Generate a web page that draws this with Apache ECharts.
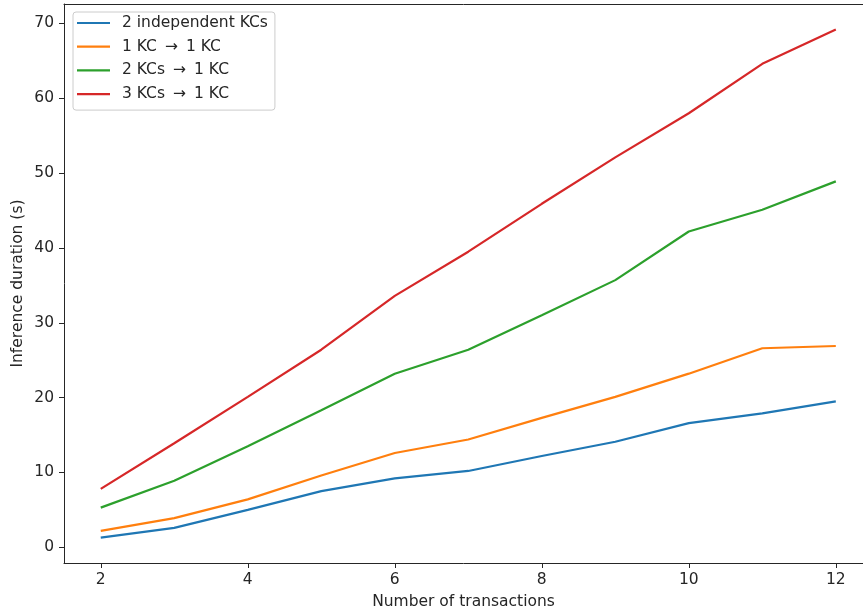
<!DOCTYPE html>
<html>
<head>
<meta charset="utf-8">
<script src="https://cdn.jsdelivr.net/npm/echarts@6/dist/echarts.min.js"></script>
<style>
  html, body { margin: 0; padding: 0; background: #fff; }
  #chart { width: 863px; height: 614px; }
</style>
</head>
<body>
<div id="chart"></div>
<script>
// Number of transactions on the x axis
const transactions = [2, 3, 4, 5, 6, 7, 8, 9, 10, 11, 12];

// Inference duration (s) for each knowledge-component configuration
const independentKCs = [1.3, 2.6, 5.0, 7.5, 9.2, 10.2, 12.2, 14.1, 16.6, 17.9, 19.5];
const oneKcToOne     = [2.2, 3.9, 6.4, 9.6, 12.6, 14.4, 17.3, 20.1, 23.2, 26.6, 26.9];
const twoKcsToOne    = [5.3, 8.9, 13.5, 18.3, 23.2, 26.4, 31.0, 35.7, 42.2, 45.1, 48.9];
const threeKcsToOne  = [7.8, 13.9, 20.1, 26.4, 33.6, 39.5, 45.9, 52.1, 58.0, 64.6, 69.2];

// arrow set off with a little extra room on both sides
const ARROW = '\u2009 \u2192 \u2009';
const seriesNames = ['2 independent KCs', '1 KC' + ARROW + '1 KC', '2 KCs' + ARROW + '1 KC', '3 KCs' + ARROW + '1 KC'];
const seriesColors = ['#1f77b4', '#ff7f0e', '#2ca02c', '#d62728'];

const xTicks = [2, 4, 6, 8, 10, 12];
const yTicks = [0, 10, 20, 30, 40, 50, 60, 70];

const FONT = 'DejaVu Sans';
const INK = '#262626';
const FS = 15.5;

const allSeries = [independentKCs, oneKcToOne, twoKcsToOne, threeKcsToOne];

const chart = echarts.init(document.getElementById('chart'), null, { renderer: 'canvas' });

chart.setOption({
  animation: false,
  backgroundColor: '#ffffff',
  textStyle: { fontFamily: FONT },
  grid: {
    left: 64, top: 4, right: 0, bottom: 51,
    show: false, containLabel: false, outerBoundsMode: 'none'
  },
  legend: {
    left: 73, top: 12,
    orient: 'vertical',
    data: seriesNames.map(n => ({ name: n, icon: 'rect' })),
    itemWidth: 33, itemHeight: 2.2, itemGap: 7.7,
    padding: [3, 7, 8, 4],
    borderColor: '#cccccc', borderWidth: 1, borderRadius: 3,
    backgroundColor: 'rgba(255,255,255,0.8)',
    textStyle: { fontFamily: FONT, fontSize: FS, color: INK, lineHeight: 16, padding: [0, 0, 0, 7] }
  },
  xAxis: [{
    type: 'value', min: 1.5, max: 12.37,
    name: 'Number of transactions', nameLocation: 'middle', nameGap: 31, nameMoveOverlap: false,
    nameTextStyle: { fontFamily: FONT, fontSize: FS, color: INK },
    axisLine: { show: true, onZero: false, lineStyle: { color: INK, width: 1 } },
    axisTick: { show: true, customValues: xTicks, length: 5, inside: false, lineStyle: { color: INK } },
    axisLabel: { customValues: xTicks, fontFamily: FONT, fontSize: FS, color: INK, margin: 9 },
    splitLine: { show: false }
  }, {
    // top frame line only
    type: 'value', position: 'top', min: 1.5, max: 12.37,
    axisLine: { show: true, onZero: false, lineStyle: { color: INK, width: 1 } },
    axisTick: { show: false }, axisLabel: { show: false }, splitLine: { show: false }
  }],
  yAxis: {
    type: 'value', min: -2.1, max: 72.6,
    name: 'Inference duration (s)', nameLocation: 'middle', nameGap: 38, nameRotate: 90, nameMoveOverlap: false,
    nameTextStyle: { fontFamily: FONT, fontSize: FS, color: INK },
    axisLine: { show: true, onZero: false, lineStyle: { color: INK, width: 1 } },
    axisTick: { show: true, customValues: yTicks, length: 5, inside: false, lineStyle: { color: INK } },
    axisLabel: { customValues: yTicks, fontFamily: FONT, fontSize: FS, color: INK, margin: 10 },
    splitLine: { show: false }
  },
  series: allSeries.map((vals, i) => ({
    name: seriesNames[i],
    type: 'line',
    xAxisIndex: 0,
    data: transactions.map((t, j) => [t, vals[j]]),
    showSymbol: false,
    symbol: 'none',
    lineStyle: { color: seriesColors[i], width: 2.2 },
    itemStyle: { color: seriesColors[i] },
    clip: false
  }))
});
</script>
</body>
</html>
